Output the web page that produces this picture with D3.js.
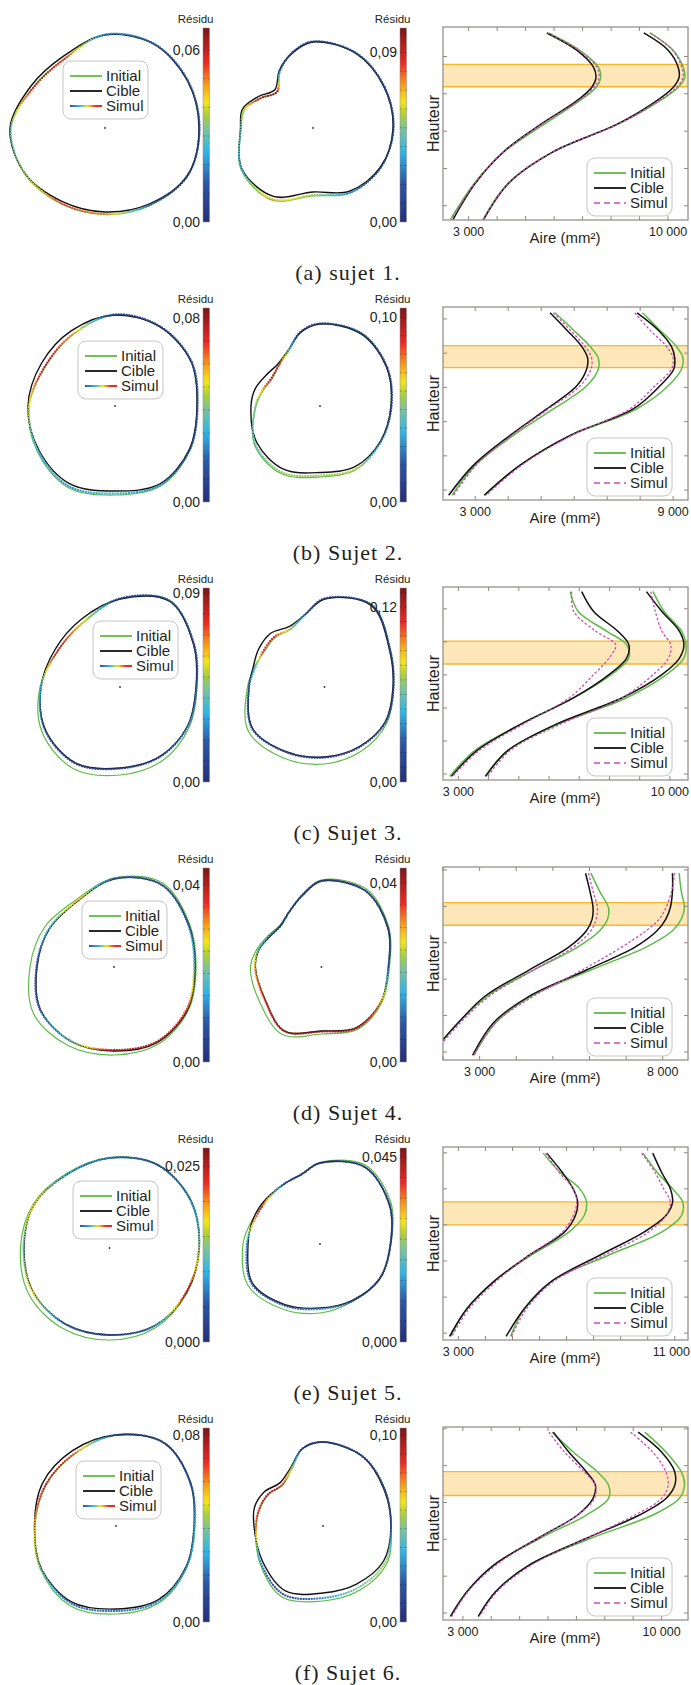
<!DOCTYPE html>
<html><head><meta charset="utf-8">
<script src="https://cdn.jsdelivr.net/npm/d3@7"></script>
<style>body{margin:0;background:#fff}svg{display:block}text{font-family:"Liberation Sans",Arial,sans-serif;fill:#231f20}</style>
</head><body><svg id="c" width="691" height="1685"></svg>
<script>
// ---------- DATA ----------
const captions = ["(a) sujet 1.", "(b) Sujet 2.", "(c) Sujet 3.", "(d) Sujet 4.", "(e) Sujet 5.", "(f) Sujet 6."];
const anglesLeft = [0, 30, 60, 90, 120, 150, 180, 210, 240, 270, 300, 330];
const anglesMid = [0, 30, 60, 90, 105, 120, 135, 150, 165, 180, 210, 240, 270, 300, 330];

// section contours (radius per angle) - left panel
const cibleLeft = [
  [94, 95, 97, 93, 83, 85, 95, 92, 85, 84, 88, 95],
  [82, 88, 91, 91, 87, 85, 87, 88, 90, 85, 90, 86],
  [76, 85, 99, 88, 78, 75, 79, 86, 88, 81, 80, 78],
  [81, 86, 95, 88, 75, 75, 77, 85, 86, 84, 87, 85],
  [89.5, 94, 96, 90, 85, 87, 85.5, 88, 88, 87, 90, 89],
  [78, 86, 96, 91, 87, 85, 81.5, 86, 88, 83, 85, 81]];
const initialLeft = [
  [94.5, 95.5, 97.5, 93.5, 80.5, 82.5, 94.5, 92.5, 87.5, 86.5, 89.5, 95.5],
  [82, 88, 91, 91, 83, 80, 86, 90, 94, 89, 92, 87],
  [77, 85, 100, 88, 74, 72, 80, 90, 94, 88, 85, 80],
  [82, 87, 97, 89, 77, 80, 84, 93, 91, 88, 89, 86],
  [90, 94.5, 96.5, 90.5, 86, 88, 89, 93, 93, 92, 92, 89.5],
  [79, 86, 96, 91, 83, 81, 81, 87, 92, 88, 88, 82]];
const simulLeft = [
  [94.5, 95.5, 97.5, 93.5, 80, 82, 94, 92, 87, 86, 89, 95.5],
  [82.5, 88.5, 91.5, 91.5, 83.5, 80.5, 86, 89, 92.5, 87.5, 91, 86.5],
  [76.5, 85.5, 99.5, 88.5, 74.5, 72, 79, 86.5, 88.5, 81.5, 80.5, 78.5],
  [80, 85.5, 95, 88.5, 75.5, 75.5, 77.5, 85.5, 85.5, 83, 86, 84],
  [89.5, 94, 96, 90, 85, 87, 86, 88.5, 88, 87, 90, 88.5],
  [78.5, 86, 96, 91, 83.5, 81.5, 81.5, 86.5, 89.5, 85, 86.5, 81.5]];
const residuLeft = [
  [0.008, 0.012, 0.015, 0.02, 0.055, 0.06, 0.03, 0.035, 0.055, 0.05, 0.015, 0.008],
  [0.015, 0.015, 0.01, 0.01, 0.06, 0.078, 0.05, 0.03, 0.025, 0.03, 0.025, 0.01],
  [0.02, 0.01, 0.015, 0.01, 0.06, 0.085, 0.035, 0.015, 0.01, 0.01, 0.015, 0.025],
  [0.02, 0.01, 0.008, 0.01, 0.03, 0.015, 0.008, 0.01, 0.02, 0.04, 0.04, 0.035],
  [0.014, 0.008, 0.006, 0.008, 0.01, 0.018, 0.012, 0.017, 0.006, 0.004, 0.008, 0.024],
  [0.03, 0.015, 0.01, 0.01, 0.065, 0.075, 0.055, 0.04, 0.02, 0.02, 0.025, 0.025]];

// middle panel
const cibleMid = [
  [80, 82, 86, 86, 78, 67, 54, 63, 73, 72.5, 82, 79, 64, 73, 78],
  [71, 77, 83, 82, 76, 64, 59.5, 62, 67, 69, 73, 73, 66.5, 70, 70],
  [68.5, 75, 94, 88, 75, 70, 76, 76, 74, 75.5, 83, 75, 70, 69, 70],
  [67, 77, 88, 86, 74, 64, 58, 60, 65, 66, 65, 74, 64, 70, 69],
  [70.5, 80, 89, 81, 72, 70, 70, 71, 71.5, 72, 78, 70, 64, 65, 69],
  [68, 71, 80, 84, 80, 66, 61, 68, 71, 69, 70, 75, 67, 67, 70]];
const initialMid = [
  [80.5, 82.5, 86.5, 86.5, 78.5, 66, 51, 60, 71, 72, 83, 83, 68, 75, 78.5],
  [71, 77, 84, 82, 76, 63, 58, 55, 59, 64, 76, 78, 71, 73, 70],
  [69, 76, 95, 88, 75, 67, 70, 70, 73, 77, 88, 82, 77, 74, 72],
  [68, 78, 90, 87, 75, 64, 59, 62, 67, 71, 71, 78, 67, 72, 70],
  [71, 82, 91, 81.5, 72, 70, 69, 70, 73, 77, 83, 75, 69, 66, 69.5],
  [68, 72, 80, 84, 80, 64, 57.5, 63, 65.5, 67, 73, 82, 75, 74, 74]];
const simulMid = [
  [80.5, 82.5, 86.5, 86.5, 78.5, 66, 51, 60, 71, 72, 82.5, 82, 67, 74.5, 78.5],
  [71.5, 77.5, 83.5, 82.5, 76.5, 63.5, 58, 56, 60, 64.5, 75, 76.5, 69.5, 72.5, 70.5],
  [69, 75.5, 94.5, 88.5, 75, 67.5, 71, 71, 72, 75.5, 83.5, 75.5, 70.5, 69.5, 70.5],
  [67, 77, 88, 86, 74, 64, 58, 60.5, 65.5, 66.5, 65.5, 74, 64.5, 70.5, 69],
  [70.5, 80, 89, 81, 72, 70, 69, 69, 70.5, 73, 79, 71, 65, 65.5, 69],
  [68, 71.5, 80, 84, 80, 64.5, 58, 63.5, 66, 67, 72, 79, 72, 71, 72]];
const residuMid = [
  [0.01, 0.01, 0.01, 0.01, 0.01, 0.025, 0.1, 0.095, 0.06, 0.045, 0.04, 0.07, 0.055, 0.03, 0.01],
  [0.01, 0.01, 0.01, 0.01, 0.01, 0.05, 0.09, 0.095, 0.07, 0.05, 0.045, 0.055, 0.055, 0.06, 0.025],
  [0.01, 0.01, 0.01, 0.01, 0.03, 0.07, 0.11, 0.11, 0.05, 0.03, 0.02, 0.01, 0.01, 0.015, 0.02],
  [0.01, 0.005, 0.005, 0.005, 0.005, 0.005, 0.005, 0.008, 0.02, 0.03, 0.035, 0.04, 0.042, 0.04, 0.03],
  [0.005, 0.005, 0.005, 0.005, 0.006, 0.01, 0.025, 0.042, 0.03, 0.012, 0.01, 0.008, 0.015, 0.006, 0.005],
  [0.02, 0.01, 0.01, 0.01, 0.015, 0.06, 0.09, 0.095, 0.09, 0.08, 0.03, 0.01, 0.03, 0.05, 0.055]];

// colour bars
const residuMaxLeft = [0.0677, 0.0843, 0.0924, 0.0438, 0.0276, 0.083];
const residuMaxMid = [0.103, 0.105, 0.133, 0.0433, 0.0472, 0.104];
const residuTickLeft = [0.06, 0.08, 0.09, 0.04, 0.025, 0.08];
const residuTickMid = [0.09, 0.10, 0.12, 0.04, 0.045, 0.10];
const residuDecimals = [2, 2, 2, 2, 3, 2];
const residuStep = [0.01, 0.01, 0.01, 0.005, 0.005, 0.01];

// height profiles (area in mm² vs height)
const profileHeights = [
  [4.63, 4.17, 3.72, 3.44, 3.17, 2.81, 2.2, 1.45, 0.6, -0.37],
  [5.18, 4.68, 4.20, 3.86, 3.53, 3.04, 2.37, 1.60, 0.73, -0.15],
  [5.52, 4.92, 4.32, 3.91, 3.51, 3.01, 2.31, 1.51, 0.71, -0.07],
  [4.91, 4.41, 3.96, 3.65, 3.33, 2.88, 2.25, 1.53, 0.81, -0.09],
  [4.99, 4.46, 4.0, 3.63, 3.26, 2.80, 2.16, 1.43, 0.69, -0.09],
  [4.91, 4.37, 3.83, 3.47, 3.11, 2.66, 2.03, 1.30, 0.59, -0.09]];
const cibleProfileL = [
  [5742, 6793, 7376, 7470, 7318, 6793, 5567, 4225, 3233, 2451],
  [5268, 5772, 6226, 6407, 6377, 6074, 5167, 4058, 2950, 2194],
  [7082, 7476, 8278, 8642, 8570, 7986, 6820, 5070, 3612, 2767],
  [5892, 6013, 6097, 6073, 5916, 5434, 4350, 3145, 2422, 1638],
  [6266, 6838, 7246, 7409, 7327, 6919, 5613, 4306, 3327, 2673],
  [6188, 6732, 7354, 7665, 7587, 7043, 5644, 4089, 3156, 2565]];
const initialProfileL = [
  [5800, 6886, 7551, 7633, 7470, 6886, 5684, 4249, 3198, 2358],
  [5419, 5974, 6478, 6730, 6730, 6377, 5369, 4159, 3000, 2294],
  [6703, 6966, 7913, 8570, 8642, 8059, 6820, 5070, 3539, 2708],
  [6037, 6278, 6519, 6495, 6278, 5675, 4470, 3205, 2422, 1638],
  [6135, 6756, 7491, 7736, 7654, 7083, 5694, 4306, 3327, 2706],
  [6141, 6888, 7743, 8132, 8132, 7354, 5721, 4089, 3156, 2565]];
const simulProfileL = [
  [5766, 6851, 7493, 7575, 7400, 6851, 5602, 4225, 3210, 2393],
  [5369, 5873, 6326, 6528, 6508, 6175, 5218, 4109, 3030, 2345],
  [6747, 6820, 7549, 8205, 7986, 7476, 6674, 5143, 3685, 2810],
  [5976, 6097, 6217, 6181, 6037, 5555, 4470, 3265, 2482, 1699],
  [6233, 6723, 7246, 7376, 7246, 6838, 5613, 4388, 3408, 2755],
  [6032, 6577, 7276, 7665, 7634, 7043, 5644, 4166, 3187, 2612]];
const cibleProfileR = [
  [9150, 10002, 10352, 10387, 10177, 9594, 8252, 5976, 4400, 3525],
  [7909, 8544, 8947, 9048, 9018, 8594, 7788, 5873, 4361, 3272],
  [9226, 9736, 10319, 10465, 10319, 9736, 8424, 6237, 4633, 3904],
  [8266, 8266, 8206, 8085, 7844, 7242, 5916, 4350, 3386, 2807],
  [10185, 10512, 10838, 10920, 10675, 9859, 8226, 6429, 5450, 4764],
  [9173, 9998, 10464, 10464, 10153, 9220, 7354, 5333, 4166, 3544]];
const initialProfileR = [
  [9360, 10177, 10527, 10586, 10352, 9710, 8287, 5976, 4377, 3502],
  [8070, 8594, 9098, 9300, 9250, 8846, 7889, 5923, 4361, 3302],
  [9444, 9809, 10392, 10538, 10465, 9882, 8570, 6310, 4633, 3875],
  [8447, 8507, 8591, 8507, 8266, 7543, 6037, 4410, 3446, 2843],
  [9826, 10349, 10920, 11296, 11247, 10512, 8552, 6429, 5450, 4927],
  [9407, 10153, 10697, 10806, 10620, 9687, 7510, 5333, 4166, 3544]];
const simulProfileR = [
  [9383, 10154, 10480, 10527, 10294, 9663, 8275, 5976, 4389, 3525],
  [7838, 8292, 8796, 8998, 8947, 8443, 7687, 5923, 4411, 3333],
  [9371, 9517, 9736, 10028, 9955, 9444, 8424, 6383, 4706, 3977],
  [8326, 8242, 8085, 7904, 7543, 6880, 5796, 4470, 3446, 2843],
  [9777, 10267, 10593, 10838, 10675, 10022, 8389, 6511, 5531, 4960],
  [8909, 9687, 10153, 10231, 9998, 9065, 7354, 5410, 4213, 3591]];
const areaDomain = [[2100, 10700], [2022, 9451], [2490, 10600], [2000, 8690], [2430, 11490], [2300, 10930]];
const heightDomain = [[-0.38, 4.79], [-0.29, 5.35], [-0.18, 5.66], [-0.22, 5.08], [-0.19, 5.16], [-0.19, 5.05]];
const areaTickLabels = [[3000, 10000], [3000, 9000], [3000, 10000], [3000, 8000], [3000, 11000], [3000, 10000]];
const bandRange = [[3.19, 3.79], [3.58, 4.22], [3.33, 4.02], [3.48, 4.1], [3.0, 3.64], [3.19, 3.84]];
const legendLabels = ["Initial", "Cible", "Simul"];

// ---------- LAYOUT ----------
const ROW0 = 28, PITCH = 280, CBH = 194;
const leftCenter = [[105, 100], [115, 98], [120, 99], [114, 99], [109.5, 100], [116, 98]];
const midCenter = [[313, 100], [320, 98], [324.5, 99], [321.4, 99], [320, 96], [323, 98]];
const leftLegendX = [63, 78, 93, 82, 73, 76];
const CB_LEFT = 203, CB_MID = 400, CBW = 6.5;
const FX0 = 443, FX1 = 688;
const GREEN = "#5dbb46", MAG = "#d048b8", BLACK = "#111";

const svg = d3.select("#c");
const defs = svg.append("defs");
const cmapStops = [0, 0.2, 0.36, 0.48, 0.55, 0.62, 0.7, 0.82, 1];
const cmapColors = ["#262e78", "#2c55a5", "#2fb5e6", "#7cc39a", "#a8cf3c", "#f2e51b", "#f7a31c", "#ec2a24", "#7a1618"];
const cmap = d3.scaleLinear().domain(cmapStops).range(cmapColors).clamp(true);
const vg = defs.append("linearGradient").attr("id", "cbar").attr("x1", 0).attr("y1", 1).attr("x2", 0).attr("y2", 0);
cmapStops.forEach((s, i) => vg.append("stop").attr("offset", s).attr("stop-color", cmapColors[i]));
const hg = defs.append("linearGradient").attr("id", "legg").attr("x1", 0).attr("y1", 0).attr("x2", 1).attr("y2", 0);
[[0, "#3a4fa0"], [0.3, "#2fb5e6"], [0.55, "#f2e51b"], [0.8, "#ec2a24"], [1, "#ec2a24"]].forEach(d => hg.append("stop").attr("offset", d[0]).attr("stop-color", d[1]));

const fmt = (v, dec) => v.toFixed(dec).replace(".", ",");
const closedLine = d3.line().curve(d3.curveCatmullRomClosed.alpha(0.5));
const radius = d3.scaleLinear().domain([0, 100]).range([0, 100]);

function residAt(angs, res, ang) {
  const n = angs.length;
  for (let k = 0; k < n; k++) {
    const a0 = angs[k], a1 = k + 1 < n ? angs[k + 1] : 360;
    if (ang >= a0 && ang < a1) { const t = (ang - a0) / (a1 - a0); return res[k] * (1 - t) + res[(k + 1) % n] * t; }
  }
  return res[0];
}

function drawContour(g, cx, cy, angs, cible, initial, simul, residu, rmax) {
  const pts = arr => arr.map((r, i) => {
    const a = angs[i] * Math.PI / 180;
    return [cx + radius(r) * Math.cos(a), cy - radius(r) * Math.sin(a)];
  });
  g.append("path").attr("d", closedLine(pts(initial))).attr("fill", "none").attr("stroke", GREEN).attr("stroke-width", 1.2);
  g.append("path").attr("d", closedLine(pts(cible))).attr("fill", "none").attr("stroke", BLACK).attr("stroke-width", 1.4);
  const sp = g.append("path").attr("d", closedLine(pts(simul))).attr("fill", "none").attr("stroke", "none");
  const node = sp.node(), L = node.getTotalLength();
  const col = d3.scaleLinear().domain([0, rmax]).range([0, 1]).clamp(true);
  for (let s = 0; s < L; s += 2.7) {
    const p = node.getPointAtLength(s);
    let ang = Math.atan2(cy - p.y, p.x - cx) * 180 / Math.PI;
    if (ang < 0) ang += 360;
    const v = residAt(angs, residu, ang);
    g.append("rect").attr("x", p.x - 1).attr("y", p.y - 1).attr("width", 2).attr("height", 2).attr("fill", cmap(col(v)));
  }
  g.append("circle").attr("cx", cx).attr("cy", cy).attr("r", 0.9).attr("fill", "#333");
}

function drawColorbar(g, x, top, rmax, tickVal, dec, step) {
  const s = d3.scaleLinear().domain([0, rmax]).range([top + CBH, top]);
  g.append("rect").attr("x", x).attr("y", top).attr("width", CBW).attr("height", CBH).attr("fill", "url(#cbar)")
    .attr("stroke", "#8a8a8a").attr("stroke-width", 0.5);
  d3.range(step, rmax, step).forEach(v => {
    g.append("line").attr("x1", x).attr("x2", x + 2).attr("y1", s(v)).attr("y2", s(v)).attr("stroke", "rgba(0,0,0,0.35)").attr("stroke-width", 0.8);
    g.append("line").attr("x1", x + CBW - 2).attr("x2", x + CBW).attr("y1", s(v)).attr("y2", s(v)).attr("stroke", "rgba(0,0,0,0.35)").attr("stroke-width", 0.8);
  });
  g.append("text").attr("x", x + CBW + 4).attr("y", top - 5).attr("text-anchor", "end").attr("font-size", 11.5).text("Résidu");
  [[tickVal, fmt(tickVal, dec)], [0, fmt(0, dec)]].forEach(d => {
    g.append("text").attr("x", x - 3).attr("y", s(d[0])).attr("text-anchor", "end").attr("dominant-baseline", "central")
      .attr("font-size", 14).text(d[1]);
  });
}

function drawLegend(g, x, y, simulGradient) {
  g.append("rect").attr("x", x).attr("y", y).attr("width", 85).attr("height", 58).attr("rx", 8)
    .attr("fill", "#fff").attr("stroke", "#c9c5c2").attr("stroke-width", 1);
  legendLabels.forEach((lab, k) => {
    const ly = y + 15 + k * 15;
    if (k === 0) g.append("line").attr("x1", x + 7).attr("x2", x + 39).attr("y1", ly).attr("y2", ly).attr("stroke", GREEN).attr("stroke-width", 1.8);
    if (k === 1) g.append("line").attr("x1", x + 7).attr("x2", x + 39).attr("y1", ly).attr("y2", ly).attr("stroke", BLACK).attr("stroke-width", 1.8);
    if (k === 2) {
      if (simulGradient) g.append("rect").attr("x", x + 7).attr("y", ly - 1).attr("width", 32).attr("height", 2).attr("fill", "url(#legg)");
      else g.append("line").attr("x1", x + 7).attr("x2", x + 39).attr("y1", ly).attr("y2", ly).attr("stroke", MAG).attr("stroke-width", 1.4).attr("stroke-dasharray", "6,4");
    }
    g.append("text").attr("x", x + 43).attr("y", ly + 5).attr("font-size", 15).text(lab);
  });
}

function drawProfile(g, i, top) {
  const ft = top - 1, fb = top + 192;
  const x = d3.scaleLinear().domain(areaDomain[i]).range([FX0, FX1]);
  const y = d3.scaleLinear().domain(heightDomain[i]).range([fb, ft]);
  const clipId = "clip" + i;
  defs.append("clipPath").attr("id", clipId).append("rect").attr("x", FX0).attr("y", ft).attr("width", FX1 - FX0).attr("height", fb - ft);
  const b = bandRange[i];
  g.append("rect").attr("x", FX0).attr("y", y(b[1])).attr("width", FX1 - FX0).attr("height", y(b[0]) - y(b[1])).attr("fill", "#fde7b8");
  [b[0], b[1]].forEach(v => g.append("line").attr("x1", FX0).attr("x2", FX1).attr("y1", y(v)).attr("y2", y(v)).attr("stroke", "#f7b52a").attr("stroke-width", 1.3));
  const cg = g.append("g").attr("clip-path", `url(#${clipId})`);
  const line = d3.line().x(d => x(d[0])).y(d => y(d[1])).curve(d3.curveCatmullRom.alpha(0.5));
  const hs = profileHeights[i];
  const series = [
    [initialProfileL[i], GREEN, 1.5, null], [initialProfileR[i], GREEN, 1.5, null],
    [cibleProfileL[i], BLACK, 1.5, null], [cibleProfileR[i], BLACK, 1.5, null],
    [simulProfileL[i], MAG, 1.3, "2.5,2"], [simulProfileR[i], MAG, 1.3, "2.5,2"]];
  series.forEach(sr => {
    const p = cg.append("path").attr("d", line(sr[0].map((a, k) => [a, hs[k]]))).attr("fill", "none")
      .attr("stroke", sr[1]).attr("stroke-width", sr[2]);
    if (sr[3]) p.attr("stroke-dasharray", sr[3]);
  });
  const axc = "#8f8782";
  const xt = d3.range(Math.ceil(areaDomain[i][0] / 1000) * 1000, areaDomain[i][1], 1000);
  xt.forEach(v => {
    g.append("line").attr("x1", x(v)).attr("x2", x(v)).attr("y1", fb).attr("y2", fb - 4).attr("stroke", axc);
    g.append("line").attr("x1", x(v)).attr("x2", x(v)).attr("y1", ft).attr("y2", ft + 4).attr("stroke", axc);
  });
  const yt = d3.range(Math.ceil(heightDomain[i][0]), heightDomain[i][1], 1);
  yt.forEach(v => {
    g.append("line").attr("x1", FX0).attr("x2", FX0 + 4).attr("y1", y(v)).attr("y2", y(v)).attr("stroke", axc);
    g.append("line").attr("x1", FX1).attr("x2", FX1 - 4).attr("y1", y(v)).attr("y2", y(v)).attr("stroke", axc);
  });
  g.append("rect").attr("x", FX0).attr("y", ft).attr("width", FX1 - FX0).attr("height", fb - ft)
    .attr("fill", "none").attr("stroke", axc).attr("stroke-width", 1.2);
  areaTickLabels[i].forEach(v => {
    const t = g.append("text").attr("y", fb + 16).attr("font-size", 12.5).text(d3.format(",")(v).replace(",", " "));
    const w = t.node().getComputedTextLength();
    if (x(v) + w / 2 > 690) t.attr("x", 690).attr("text-anchor", "end");
    else t.attr("x", x(v)).attr("text-anchor", "middle");
  });
  g.append("text").attr("x", 565).attr("y", fb + 23).attr("text-anchor", "middle").attr("font-size", 15).text("Aire (mm²)");
  g.append("text").attr("transform", `translate(433,${(ft + fb) / 2}) rotate(-90)`).attr("text-anchor", "middle")
    .attr("dominant-baseline", "central").attr("font-size", 16).text("Hauteur");
  drawLegend(g, 587, fb - 62, false);
}

captions.forEach((cap, i) => {
  const top = ROW0 + PITCH * i;
  const g = svg.append("g");
  drawContour(g, leftCenter[i][0], top + leftCenter[i][1], anglesLeft, cibleLeft[i], initialLeft[i], simulLeft[i], residuLeft[i], residuMaxLeft[i]);
  drawLegend(g, leftLegendX[i], top + 33, true);
  drawColorbar(g, CB_LEFT, top, residuMaxLeft[i], residuTickLeft[i], residuDecimals[i], residuStep[i]);
  drawContour(g, midCenter[i][0], top + midCenter[i][1], anglesMid, cibleMid[i], initialMid[i], simulMid[i], residuMid[i], residuMaxMid[i]);
  drawColorbar(g, CB_MID, top, residuMaxMid[i], residuTickMid[i], residuDecimals[i], residuStep[i]);
  drawProfile(g, i, top);
  g.append("text").attr("x", 348).attr("y", top + 252).attr("text-anchor", "middle")
    .style("font-family", "'Liberation Serif','DejaVu Serif',serif").attr("font-size", 22).attr("letter-spacing", 1)
    .text(cap);
});
</script></body></html>
